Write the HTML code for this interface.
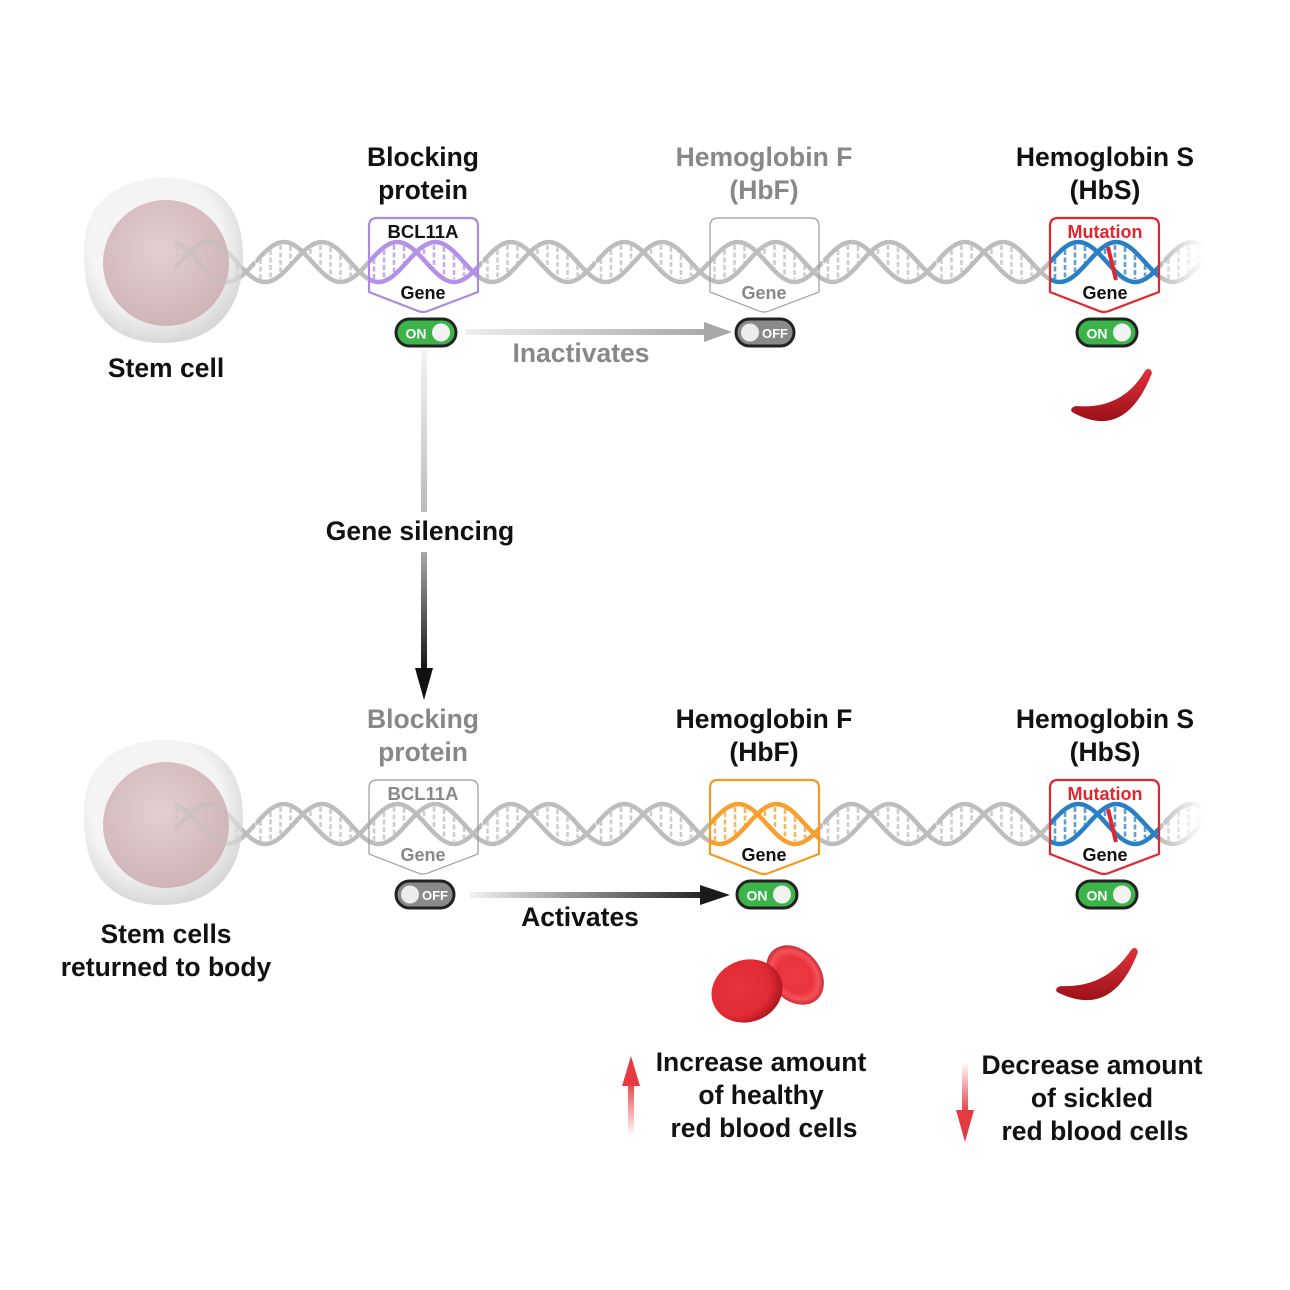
<!DOCTYPE html>
<html><head><meta charset="utf-8"><style>
html,body{margin:0;padding:0;background:#fff}
svg{display:block}
text{font-family:"Liberation Sans",Arial,sans-serif;font-weight:bold}
</style></head><body>
<svg width="1290" height="1290" viewBox="0 0 1290 1290" xmlns="http://www.w3.org/2000/svg">
<defs>
<path id="sA" fill="none" stroke-width="4.5" d="M0,30 C9.25,19.76 18.1,10 28.375,10 C38.65,10 47.5,19.76 56.75,30 C66,40.24 74.85,50 85.125,50 C95.4,50 104.25,40.24 113.5,30"/>
<g id="tile">
  <g stroke-width="2.6" stroke-dasharray="5 2.5" opacity="0.75">
    <line x1="5" y1="27" x2="5" y2="47"/><line x1="15" y1="18" x2="15" y2="46"/><line x1="25" y1="13" x2="25" y2="40"/><line x1="35" y1="14" x2="35" y2="31"/>
    <line x1="55" y1="17" x2="55" y2="25"/><line x1="65" y1="13" x2="65" y2="36"/><line x1="75" y1="15" x2="75" y2="44"/><line x1="85" y1="23" x2="85" y2="47"/><line x1="95" y1="33" x2="95" y2="44"/>
  </g>
  <use href="#sA"/><use href="#sA" transform="translate(38,0)"/><use href="#sA" transform="translate(-75.5,0)"/>
</g>
<pattern id="pg" patternUnits="userSpaceOnUse" width="113.5" height="60" x="28.5" y="232"><g stroke="#bdbdbd"><use href="#tile"/></g></pattern>
<pattern id="pp" patternUnits="userSpaceOnUse" width="113.5" height="60" x="28.5" y="232"><g stroke="#b291e6"><use href="#tile"/></g></pattern>
<pattern id="pb" patternUnits="userSpaceOnUse" width="113.5" height="60" x="28.5" y="232"><g stroke="#2a7fc4"><use href="#tile"/></g></pattern>
<pattern id="po" patternUnits="userSpaceOnUse" width="113.5" height="60" x="28.5" y="232"><g stroke="#f5a030"><use href="#tile"/></g></pattern>
<linearGradient id="gfade" x1="0" x2="1"><stop offset="0" stop-color="#fff" stop-opacity="0"/><stop offset="1" stop-color="#fff"/></linearGradient>
<path id="box" d="M369,226 Q369,218 377,218 H470 Q478,218 478,226 V292 L428,311 Q423,313 418,311 L369,292 Z"/>
<clipPath id="cb"><use href="#box"/></clipPath>
<radialGradient id="cellout" cx="0.45" cy="0.4" r="0.6"><stop offset="0.7" stop-color="#f4f4f4"/><stop offset="1" stop-color="#d8d8d8"/></radialGradient>
<radialGradient id="cellin" cx="0.45" cy="0.4" r="0.6"><stop offset="0" stop-color="#e2cdcf"/><stop offset="1" stop-color="#cfb2b5"/></radialGradient>
<radialGradient id="rbc" cx="0.4" cy="0.4" r="0.65"><stop offset="0" stop-color="#e8323c"/><stop offset="0.7" stop-color="#e02a34"/><stop offset="1" stop-color="#a8141c"/></radialGradient>
<radialGradient id="rbc2" cx="0.5" cy="0.5" r="0.55"><stop offset="0" stop-color="#f03a44"/><stop offset="0.55" stop-color="#e8343d"/><stop offset="0.75" stop-color="#f5525a"/><stop offset="1" stop-color="#b0161e"/></radialGradient>
<linearGradient id="sick" x1="0" y1="0" x2="0" y2="1"><stop offset="0" stop-color="#e0323c"/><stop offset="1" stop-color="#9c1018"/></linearGradient>
<linearGradient id="a1" x1="0" x2="1"><stop offset="0" stop-color="#eee"/><stop offset="1" stop-color="#a8a8a8"/></linearGradient>
<linearGradient id="a2" x1="0" x2="1"><stop offset="0" stop-color="#f2f2f2"/><stop offset="1" stop-color="#222"/></linearGradient>
<linearGradient id="v1" x1="0" y1="0" x2="0" y2="1"><stop offset="0" stop-color="#f4f4f4"/><stop offset="1" stop-color="#bbb"/></linearGradient>
<linearGradient id="v2" x1="0" y1="0" x2="0" y2="1"><stop offset="0" stop-color="#aaa"/><stop offset="1" stop-color="#111"/></linearGradient>
<linearGradient id="ru" x1="0" y1="0" x2="0" y2="1"><stop offset="0" stop-color="#e53a40"/><stop offset="1" stop-color="#e53a40" stop-opacity="0"/></linearGradient>
<linearGradient id="rd" x1="0" y1="0" x2="0" y2="1"><stop offset="0" stop-color="#e53a40" stop-opacity="0"/><stop offset="1" stop-color="#e53a40"/></linearGradient>
</defs>

<g>
  <rect x="175" y="232" width="1028" height="60" fill="url(#pg)"/>
  <rect x="1160" y="230" width="44" height="64" fill="url(#gfade)"/>
</g>
<g transform="translate(0,562)"><rect x="175" y="232" width="1028" height="60" fill="url(#pg)"/><rect x="1160" y="230" width="44" height="64" fill="url(#gfade)"/></g>

<g id="cell">
<path d="M84,250 C84,200 120,178 165,178 C215,178 243,205 243,255 C243,310 215,343 162,343 C110,343 82,310 84,250 Z" fill="url(#cellout)"/>
<circle cx="166" cy="263" r="63" fill="url(#cellin)" opacity="0.95"/>
<rect x="175" y="232" width="70" height="60" fill="url(#pg)" opacity="0.45"/>
</g>
<use href="#cell" transform="translate(0,562)"/>

<use href="#box" fill="#fff"/>
<rect x="369" y="232" width="109" height="60" fill="url(#pp)" clip-path="url(#cb)"/>
<use href="#box" fill="none" stroke="#a98be0" stroke-width="2.2"/>
<text x="423" y="238" font-size="18.5" text-anchor="middle" fill="#111">BCL11A</text>
<text x="423" y="299" font-size="18" text-anchor="middle" fill="#111">Gene</text>

<use href="#box" transform="translate(341,0)" fill="none" stroke="#9a9a9a" stroke-width="1.2"/>
<text x="764" y="299" font-size="18" text-anchor="middle" fill="#888">Gene</text>

<g transform="translate(681,0)">
<use href="#box" fill="#fff"/>
<rect x="369" y="232" width="109" height="60" fill="url(#pb)" clip-path="url(#cb)"/>
<use href="#box" fill="none" stroke="#e1262d" stroke-width="2.2"/>
</g>
<path d="M1108,247 L1116,280" stroke="#e1262d" stroke-width="4"/>
<text x="1105" y="238" font-size="18" text-anchor="middle" fill="#e1262d">Mutation</text>
<text x="1105" y="299" font-size="18" text-anchor="middle" fill="#111">Gene</text>

<g transform="translate(0,562)">
<use href="#box" fill="none" stroke="#9a9a9a" stroke-width="1.2"/>
<g transform="translate(341,0)">
<use href="#box" fill="#fff"/>
<rect x="369" y="232" width="109" height="60" fill="url(#po)" clip-path="url(#cb)"/>
<use href="#box" fill="none" stroke="#f49a20" stroke-width="2.2"/>
</g>
<g transform="translate(681,0)">
<use href="#box" fill="#fff"/>
<rect x="369" y="232" width="109" height="60" fill="url(#pb)" clip-path="url(#cb)"/>
<use href="#box" fill="none" stroke="#e1262d" stroke-width="2.2"/>
</g>
<path d="M1108,247 L1116,280" stroke="#e1262d" stroke-width="4"/>
</g>
<text x="423" y="800" font-size="18.5" text-anchor="middle" fill="#888">BCL11A</text>
<text x="423" y="861" font-size="18" text-anchor="middle" fill="#888">Gene</text>
<text x="764" y="861" font-size="18" text-anchor="middle" fill="#111">Gene</text>
<text x="1105" y="800" font-size="18" text-anchor="middle" fill="#e1262d">Mutation</text>
<text x="1105" y="861" font-size="18" text-anchor="middle" fill="#111">Gene</text>

<g id="on">
<rect x="396" y="319" width="60" height="27" rx="13.5" fill="#3cb44a" stroke="#222" stroke-width="3"/>
<circle cx="441" cy="332.5" r="9" fill="#f2f2f2"/>
<text x="416" y="338.5" font-size="14" text-anchor="middle" fill="#fff">ON</text>
</g>
<use href="#on" transform="translate(681,0)"/>
<use href="#on" transform="translate(341,562)"/>
<use href="#on" transform="translate(681,562)"/>
<g id="off">
<rect x="736" y="319" width="58" height="27" rx="13.5" fill="#8a8a8a" stroke="#222" stroke-width="3"/>
<circle cx="750" cy="332.5" r="9" fill="#ececec"/>
<text x="775" y="338" font-size="13" text-anchor="middle" fill="#fff">OFF</text>
</g>
<use href="#off" transform="translate(-340,562)"/>

<rect x="465" y="329" width="245" height="6" fill="url(#a1)"/>
<path d="M704,322 L732,332 L704,342 Z" fill="#a8a8a8"/>
<rect x="421" y="350" width="6" height="162" fill="url(#v1)"/>
<rect x="421" y="552" width="6" height="120" fill="url(#v2)"/>
<path d="M415,668 L424,700 L433,668 Z" fill="#111"/>
<rect x="470" y="892" width="235" height="6" fill="url(#a2)"/>
<path d="M700,885 L730,895 L700,905 Z" fill="#1a1a1a"/>
<rect x="628" y="1080" width="6" height="56" fill="url(#ru)"/>
<path d="M622,1086 L631,1056 L640,1086 Z" fill="#e53a40"/>
<rect x="962" y="1062" width="6" height="52" fill="url(#rd)"/>
<path d="M956,1110 L965,1142 L974,1110 Z" fill="#e53a40"/>

<ellipse cx="795" cy="975" rx="33" ry="25" transform="rotate(48 795 975)" fill="url(#rbc2)"/>
<ellipse cx="747" cy="991" rx="36" ry="31" transform="rotate(-20 747 991)" fill="url(#rbc)"/>
<path d="M1072,412 Q1125,442 1152,373 Q1150,366 1145,371 Q1122,410 1076,406 Q1069,408 1072,412 Z" fill="url(#sick)"/>
<path d="M1057,992 Q1112,1020 1138,952 Q1136,945 1131,950 Q1106,988 1061,986 Q1054,988 1057,992 Z" fill="url(#sick)"/>

<g font-size="26.5" text-anchor="middle" fill="#111">
<text x="423" y="166">Blocking</text><text x="423" y="199">protein</text>
<text x="764" y="166" fill="#888">Hemoglobin F</text><text x="764" y="199" fill="#888">(HbF)</text>
<text x="1105" y="166">Hemoglobin S</text><text x="1105" y="199">(HbS)</text>
<text x="166" y="377">Stem cell</text>
<text x="581" y="362" fill="#888">Inactivates</text>
<text x="420" y="540">Gene silencing</text>
<text x="423" y="728" fill="#888">Blocking</text><text x="423" y="761" fill="#888">protein</text>
<text x="764" y="728">Hemoglobin F</text><text x="764" y="761">(HbF)</text>
<text x="1105" y="728">Hemoglobin S</text><text x="1105" y="761">(HbS)</text>
<text x="166" y="943">Stem cells</text><text x="166" y="976">returned to body</text>
<text x="580" y="926">Activates</text>
<text x="761" y="1071">Increase amount</text><text x="761" y="1104">of healthy</text><text x="764" y="1137">red blood cells</text>
<text x="1092" y="1074">Decrease amount</text><text x="1092" y="1107">of sickled</text><text x="1095" y="1140">red blood cells</text>
</g>
</svg>
</body></html>
